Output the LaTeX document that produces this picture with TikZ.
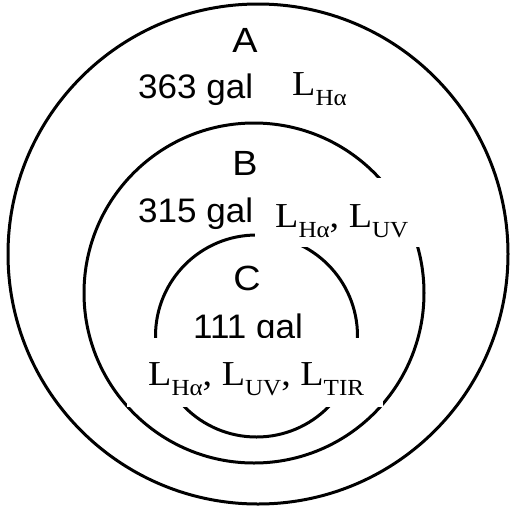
\documentclass[tikz,border=0pt]{standalone}
\usepackage{fontspec}
\setmainfont{Liberation Serif}
\setsansfont{Liberation Sans}
\newfontfamily\lsans{Liberation Sans}
\newfontfamily\lserif{Liberation Serif}
\newcommand{\Lum}[1]{L\raisebox{-10pt}{\fontsize{23}{23}\selectfont #1}}
\newcommand{\wide}[1]{\scalebox{1.09}[1]{#1}}
\tikzset{
  ring/.style={draw=black, line width=3pt},
  letter/.style={font=\lsans\fontsize{35}{35}\selectfont, inner sep=0pt, anchor=base},
  count/.style={font=\lsans\fontsize{34}{34}\selectfont, inner sep=0pt, anchor=base west},
  mask/.style={fill=white, draw=none, inner sep=0pt, anchor=north west},
  lum/.style={font=\lserif\fontsize{35}{35}\selectfont, inner sep=0pt, anchor=base west},
}
\begin{document}
\begin{tikzpicture}[x=1pt,y=-1pt]
\useasboundingbox (0,0) rectangle (512,507);
\fill[white] (0,0) rectangle (512,507);
\draw[ring] (258,254) circle (250);
\draw[ring] (254,293) circle (170);
\draw[ring] (256.5,336) circle (101);
\node[letter] (a) at (245,52) {\scalebox{1.08}[1]{A}};
\node[count] (na) at (138,98) {\scalebox{1.03}[1]{363 gal}};
\node[letter] (b) at (245,175) {\scalebox{1.08}[1]{B}};
\node[count] (nb) at (138,222) {\scalebox{1.03}[1]{315 gal}};
\node[letter] (c) at (247,290) {\scalebox{1.08}[1]{C}};
\node[count] (nc) at (193,338) {\scalebox{1.03}[1]{111 gal}};
\node[mask, minimum width=105pt, minimum height=56pt] (m1) at (255,62) {};
\node[mask, minimum width=165pt, minimum height=69pt] (m2) at (255,178) {};
\node[mask, minimum width=256pt, minimum height=69pt] (m3) at (127,338) {};
\node[lum] (l1) at (292,95) {\wide{\Lum{Hα}}};
\node[lum] (l2) at (275,227) {\wide{\Lum{Hα}, \Lum{UV}}};
\node[lum] (l3) at (148,385) {\wide{\Lum{Hα}, \Lum{UV}, \Lum{TIR}}};
\end{tikzpicture}
\end{document}
